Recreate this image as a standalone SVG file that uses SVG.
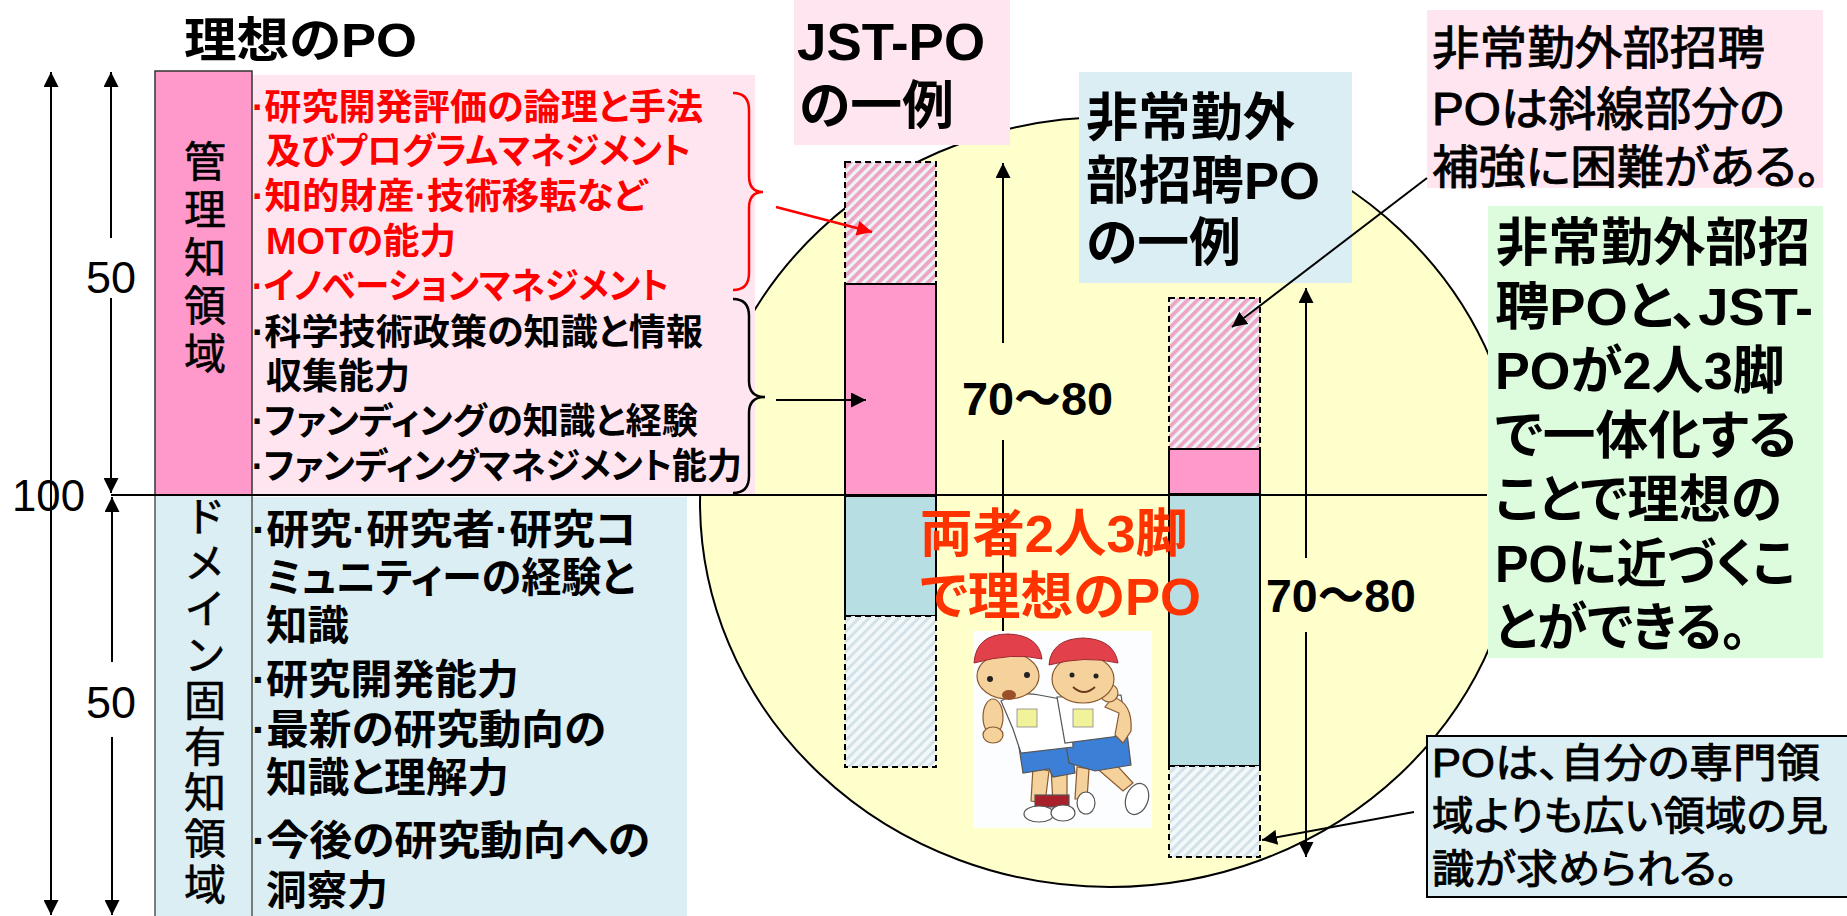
<svg xmlns="http://www.w3.org/2000/svg" width="1847" height="916" viewBox="0 0 1847 916">
<defs>
<style>
text { font-family: "Liberation Sans", "Noto Sans CJK JP", sans-serif; fill: #000; font-feature-settings: "palt"; }
.red { fill: #FF0000; }
.orange { fill: #FF3300; }
.list { font-size: 36px; font-weight: bold; }
.dom { font-size: 41px; font-weight: bold; }
.col { font-size: 42px; writing-mode: vertical-rl; font-feature-settings: normal; stroke: #000; stroke-width: 0.6; }
.num { font-size: 45px; }
.big { font-size: 52px; font-weight: bold; }
.med { font-size: 46px; stroke: #000; stroke-width: 1; }
.note { font-size: 40px; stroke: #000; stroke-width: 0.9; }
.ln { stroke: #000; stroke-width: 2; fill: none; }
.solid { stroke: #000; stroke-width: 2; }
.dash { stroke: #000; stroke-width: 2; stroke-dasharray: 6 4; }
.pink { fill: #FF99CC; }
.cyan { fill: #B7DEE3; }
.lpink { fill: #FFE5F0; }
.lcyan { fill: #DAEEF3; }
.skin { fill: #F5D29C; stroke: #8A5A2E; stroke-width: 1.2; }
.ink { stroke: #555; stroke-width: 1.2; }
</style>
<marker id="ah" viewBox="0 0 10 10" refX="10" refY="5" markerWidth="15" markerHeight="15" markerUnits="userSpaceOnUse" orient="auto-start-reverse">
  <path d="M0,0 L10,5 L0,10 z" fill="#000"/>
</marker>
<marker id="ahRed" viewBox="0 0 10 10" refX="10" refY="5" markerWidth="17" markerHeight="15" markerUnits="userSpaceOnUse" orient="auto">
  <path d="M0,0 L10,5 L0,10 z" fill="#FF0000"/>
</marker>
<pattern id="hatchPink" width="7" height="7" patternUnits="userSpaceOnUse" patternTransform="rotate(45)">
  <rect width="7" height="7" fill="#EAF6F8"/>
  <rect width="3.8" height="7" fill="#F0A4C4"/>
</pattern>
<pattern id="hatchBlue" width="7" height="7" patternUnits="userSpaceOnUse" patternTransform="rotate(45)">
  <rect width="7" height="7" fill="#F3F8FA"/>
  <rect width="3" height="7" fill="#D3E1E9"/>
</pattern>
</defs>

<rect width="1847" height="916" fill="#fff"/>

<!-- big yellow ellipse behind the comparison bars -->
<g id="ellipse">
  <ellipse cx="1110" cy="502" rx="410" ry="385" fill="#FFFFCC" stroke="#000" stroke-width="2"/>
</g>

<!-- title -->
<g id="title">
  <text x="184" y="57" class="big" style="font-size:48px" textLength="233" lengthAdjust="spacingAndGlyphs">理想のPO</text>
</g>

<!-- management knowledge column + list -->
<g id="management">
  <rect x="252" y="75" width="503" height="420" class="lpink"/>
  <rect x="155" y="71" width="97" height="424" class="pink" stroke="#333" stroke-width="1.5"/>
  <text x="201" y="140" class="col" style="letter-spacing:6px">管理知領域</text>
  <text x="252" y="120" class="list red" textLength="451" lengthAdjust="spacingAndGlyphs">·研究開発評価の論理と手法</text>
  <text x="266" y="164" class="list red" textLength="425" lengthAdjust="spacingAndGlyphs">及びプログラムマネジメント</text>
  <text x="252" y="209" class="list red" textLength="395" lengthAdjust="spacingAndGlyphs">·知的財産·技術移転など</text>
  <text x="266" y="254" class="list red" textLength="190" lengthAdjust="spacingAndGlyphs">MOTの能力</text>
  <text x="252" y="299" class="list red" textLength="417" lengthAdjust="spacingAndGlyphs">·イノベーションマネジメント</text>
  <text x="252" y="345" class="list" textLength="451" lengthAdjust="spacingAndGlyphs">·科学技術政策の知識と情報</text>
  <text x="266" y="389" class="list" textLength="144" lengthAdjust="spacingAndGlyphs">収集能力</text>
  <text x="252" y="434" class="list" textLength="446" lengthAdjust="spacingAndGlyphs">·ファンディングの知識と経験</text>
  <text x="252" y="479" class="list" textLength="490" lengthAdjust="spacingAndGlyphs">·ファンディングマネジメント能力</text>
  <path d="M733,93 Q749,93 749,110 L749,176 Q749,192 763,192 Q749,192 749,208 L749,273 Q749,290 733,290" fill="none" stroke="#FF0000" stroke-width="2.5"/>
  <path d="M733,299 Q749,299 749,316 L749,381 Q749,397 765,397 Q749,397 749,413 L749,476 Q749,493 733,493" fill="none" stroke="#000" stroke-width="2.5"/>
</g>

<!-- domain knowledge column + list -->
<g id="domain">
  <rect x="252" y="497" width="435" height="419" class="lcyan"/>
  <rect x="155" y="495" width="97" height="425" class="lcyan" stroke="#555" stroke-width="1.5"/>
  <text x="201" y="495" class="col" style="letter-spacing:4px">ドメイン固有知領域</text>
  <text x="252" y="544" class="dom" textLength="385" lengthAdjust="spacingAndGlyphs">·研究·研究者·研究コ</text>
  <text x="266" y="592" class="dom" textLength="369" lengthAdjust="spacingAndGlyphs">ミュニティーの経験と</text>
  <text x="266" y="640" class="dom" textLength="83" lengthAdjust="spacingAndGlyphs">知識</text>
  <text x="252" y="694" class="dom" textLength="267" lengthAdjust="spacingAndGlyphs">·研究開発能力</text>
  <text x="252" y="744" class="dom" textLength="354" lengthAdjust="spacingAndGlyphs">·最新の研究動向の</text>
  <text x="266" y="792" class="dom" textLength="243" lengthAdjust="spacingAndGlyphs">知識と理解力</text>
  <text x="252" y="855" class="dom" textLength="398" lengthAdjust="spacingAndGlyphs">·今後の研究動向への</text>
  <text x="266" y="905" class="dom" textLength="122" lengthAdjust="spacingAndGlyphs">洞察力</text>
</g>

<!-- label boxes -->
<g id="jst-label">
  <rect x="794" y="0" width="216" height="145" class="lpink"/>
  <text x="797" y="60" class="big" textLength="188" lengthAdjust="spacingAndGlyphs">JST-PO</text>
  <text x="799" y="124" class="big" textLength="155" lengthAdjust="spacingAndGlyphs">の一例</text>
</g>
<g id="external-label">
  <rect x="1079" y="72" width="273" height="211" class="lcyan"/>
  <text x="1086" y="136" class="big" textLength="209" lengthAdjust="spacingAndGlyphs">非常勤外</text>
  <text x="1086" y="199" class="big" textLength="234" lengthAdjust="spacingAndGlyphs">部招聘PO</text>
  <text x="1086" y="261" class="big" textLength="155" lengthAdjust="spacingAndGlyphs">の一例</text>
</g>
<g id="hatch-note">
  <rect x="1427" y="10" width="396" height="178" class="lpink"/>
  <text x="1432" y="64" class="med" textLength="333" lengthAdjust="spacingAndGlyphs">非常勤外部招聘</text>
  <text x="1432" y="125" class="med" textLength="353" lengthAdjust="spacingAndGlyphs">POは斜線部分の</text>
  <text x="1432" y="183" class="med" textLength="388" lengthAdjust="spacingAndGlyphs">補強に困難がある。</text>
</g>
<g id="merge-note">
  <rect x="1488" y="206" width="335" height="452" fill="#DDFBDD"/>
  <text x="1496" y="261" class="big" textLength="314" lengthAdjust="spacingAndGlyphs">非常勤外部招</text>
  <text x="1495" y="325" class="big" textLength="318" lengthAdjust="spacingAndGlyphs">聘POと、JST-</text>
  <text x="1495" y="389" class="big" textLength="290" lengthAdjust="spacingAndGlyphs">POが2人3脚</text>
  <text x="1495" y="454" class="big" textLength="302" lengthAdjust="spacingAndGlyphs">で一体化する</text>
  <text x="1495" y="518" class="big" textLength="287" lengthAdjust="spacingAndGlyphs">ことで理想の</text>
  <text x="1495" y="582" class="big" textLength="300" lengthAdjust="spacingAndGlyphs">POに近づくこ</text>
  <text x="1495" y="646" class="big" textLength="252" lengthAdjust="spacingAndGlyphs">とができる。</text>
</g>
<g id="breadth-note">
  <rect x="1427" y="736" width="425" height="161" class="lcyan" stroke="#000" stroke-width="2"/>
  <text x="1432" y="777" class="note" textLength="388" lengthAdjust="spacingAndGlyphs">POは、自分の専門領</text>
  <text x="1432" y="830" class="note" textLength="396" lengthAdjust="spacingAndGlyphs">域よりも広い領域の見</text>
  <text x="1432" y="883" class="note" textLength="306" lengthAdjust="spacingAndGlyphs">識が求められる。</text>
</g>

<!-- JST-PO bar -->
<g id="bar-jst">
  <rect x="845" y="162" width="91" height="122" fill="url(#hatchPink)" class="dash"/>
  <rect x="845" y="284" width="91" height="211" class="pink solid"/>
  <rect x="845" y="496" width="91" height="120" class="cyan solid"/>
  <rect x="845" y="616" width="91" height="151" fill="url(#hatchBlue)" class="dash"/>
</g>

<!-- external PO bar -->
<g id="bar-external">
  <rect x="1169" y="298" width="91" height="151" fill="url(#hatchPink)" class="dash"/>
  <rect x="1169" y="449" width="91" height="45" class="pink solid"/>
  <rect x="1169" y="494" width="91" height="272" class="cyan solid"/>
  <rect x="1169" y="766" width="91" height="91" fill="url(#hatchBlue)" class="dash"/>
</g>

<!-- scale: dimension arrows, numbers, baseline at 100 -->
<g id="scale">
  <line x1="51" y1="72" x2="51" y2="915" class="ln" marker-start="url(#ah)" marker-end="url(#ah)"/>
  <line x1="111" y1="72" x2="111" y2="238" class="ln" marker-start="url(#ah)"/>
  <line x1="111" y1="298" x2="111" y2="493" class="ln" marker-end="url(#ah)"/>
  <line x1="112" y1="497" x2="112" y2="662" class="ln" marker-start="url(#ah)"/>
  <line x1="112" y1="737" x2="112" y2="915" class="ln" marker-end="url(#ah)"/>
  <line x1="111" y1="495" x2="1487" y2="495" class="ln"/>
  <text x="111" y="293" class="num" text-anchor="middle">50</text>
  <text x="111" y="718" class="num" text-anchor="middle">50</text>
  <text x="12" y="511" class="num" textLength="73" lengthAdjust="spacingAndGlyphs">100</text>
</g>

<!-- 70~80 range arrows inside the ellipse -->
<g id="range">
  <line x1="1003" y1="163" x2="1003" y2="343" class="ln" marker-start="url(#ah)"/>
  <line x1="1003" y1="440" x2="1003" y2="700" class="ln"/>
  <text x="962" y="415" class="big" style="font-size:47px" textLength="151" lengthAdjust="spacingAndGlyphs">70～80</text>
  <line x1="1306" y1="288" x2="1306" y2="558" class="ln" marker-start="url(#ah)"/>
  <line x1="1306" y1="632" x2="1306" y2="857" class="ln" marker-end="url(#ah)"/>
  <text x="1266" y="612" class="big" style="font-size:47px" textLength="150" lengthAdjust="spacingAndGlyphs">70～80</text>
</g>

<!-- two children running a three-legged race -->
<g id="kids" transform="translate(973,631)">
  <rect width="179" height="197" fill="#FBFDFF"/>
  <!-- legs and shoes -->
  <path d="M60,136 L58,170 L72,172 L76,140 Z" class="skin"/>
  <path d="M78,138 L80,172 L94,170 L94,136 Z" class="skin"/>
  <path d="M120,134 L150,160 L160,152 L138,128 Z" class="skin"/>
  <path d="M104,136 L102,168 L114,168 L116,138 Z" class="skin"/>
  <rect x="62" y="164" width="34" height="12" fill="#A8202A" class="ink"/>
  <ellipse cx="66" cy="183" rx="15" ry="8" fill="#fff" class="ink"/>
  <ellipse cx="90" cy="182" rx="12" ry="8" fill="#fff" class="ink"/>
  <ellipse cx="113" cy="172" rx="9" ry="11" fill="#fff" class="ink"/>
  <ellipse cx="164" cy="168" rx="11" ry="16" fill="#fff" class="ink" transform="rotate(20 164 168)"/>
  <!-- shorts -->
  <path d="M46,116 L98,110 L102,142 L80,146 L76,138 L50,142 Z" fill="#3C7FD6" class="ink"/>
  <path d="M92,108 L154,102 L158,134 L122,140 L96,132 Z" fill="#3C7FD6" class="ink"/>
  <!-- shirts -->
  <path d="M28,70 Q46,60 66,64 L98,70 L100,116 L48,122 L40,98 Z" fill="#fff" class="ink"/>
  <rect x="44" y="78" width="20" height="18" fill="#F2F29A" stroke="#888" stroke-width="0.8"/>
  <path d="M84,66 L148,64 L154,104 L92,112 Z" fill="#fff" class="ink"/>
  <rect x="100" y="78" width="20" height="18" fill="#F2F29A" stroke="#888" stroke-width="0.8"/>
  <!-- arms -->
  <ellipse cx="20" cy="86" rx="10" ry="18" class="skin"/>
  <ellipse cx="20" cy="104" rx="10" ry="8" class="skin"/>
  <path d="M140,66 Q160,72 158,100 L150,112 L142,104 L146,82 L132,76 Z" class="skin"/>
  <ellipse cx="136" cy="62" rx="9" ry="9" class="skin"/>
  <!-- faces -->
  <ellipse cx="35" cy="45" rx="31" ry="23" class="skin"/>
  <ellipse cx="110" cy="48" rx="31" ry="24" class="skin"/>
  <circle cx="17" cy="48" r="3" fill="#222"/>
  <circle cx="54" cy="44" r="3" fill="#222"/>
  <ellipse cx="36" cy="64" rx="7" ry="5" fill="#9B4E2A"/>
  <circle cx="99" cy="44" r="2.5" fill="#222"/>
  <circle cx="123" cy="45" r="2.5" fill="#222"/>
  <path d="M100,56 Q111,66 122,56" fill="none" stroke="#6B3A1E" stroke-width="1.8"/>
  <!-- caps -->
  <path d="M1,32 Q3,3 35,3 Q66,4 69,28 Q40,21 1,32 Z" fill="#E2404A" stroke="#9A2A30" stroke-width="1"/>
  <path d="M76,34 Q78,8 110,7 Q141,8 145,32 Q112,24 76,34 Z" fill="#E2404A" stroke="#9A2A30" stroke-width="1"/>
</g>

<!-- central caption -->
<g id="caption">
  <text x="920" y="552" class="big orange" textLength="268" lengthAdjust="spacingAndGlyphs">両者2人3脚</text>
  <text x="920" y="615" class="big orange" textLength="281" lengthAdjust="spacingAndGlyphs">で理想のPO</text>
</g>

<!-- connectors -->
<g id="connectors">
  <line x1="776" y1="207" x2="872" y2="232" stroke="#FF0000" stroke-width="2.5" marker-end="url(#ahRed)"/>
  <line x1="776" y1="400" x2="866" y2="400" class="ln" marker-end="url(#ah)"/>
  <line x1="1427" y1="178" x2="1232" y2="327" class="ln" marker-end="url(#ah)"/>
  <line x1="1414" y1="812" x2="1262" y2="840" class="ln" marker-end="url(#ah)"/>
</g>
</svg>
